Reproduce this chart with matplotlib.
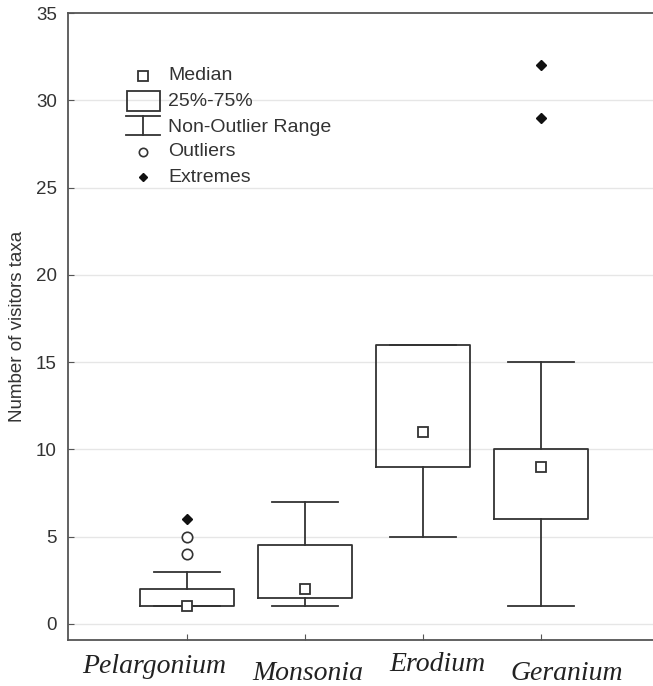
import matplotlib
matplotlib.use('Agg')
import matplotlib.pyplot as plt
from matplotlib.patches import Rectangle
from matplotlib.transforms import blended_transform_factory

plt.rcParams['font.family'] = ['Liberation Sans', 'DejaVu Sans']

# Data
genera = ['Pelargonium', 'Monsonia', 'Erodium', 'Geranium']
medians = [1, 2, 11, 9]
q1 = [1, 1.5, 9, 6]
q3 = [2, 4.5, 16, 10]
whisker_low = [1, 1, 5, 1]
whisker_high = [3, 7, 16, 15]
outliers = {'Pelargonium': [4, 5]}
extremes = {'Pelargonium': [6], 'Geranium': [29, 32]}

# label placement (x offset from box centre, baseline offset in px from bottom)
label_dx = [-0.275, 0.02, 0.12, 0.22]
label_base = [13, 6, 15, 6]

W, H = 653, 686
fig = plt.figure(figsize=(W / 100, H / 100), dpi=100)
ax = fig.add_axes([68 / W, (H - 640) / H, (W - 68) / W, (640 - 13) / H])

dark = '#333333'
positions = list(range(1, len(genera) + 1))
stats = []
for i, g in enumerate(genera):
    stats.append(dict(med=medians[i], q1=q1[i], q3=q3[i],
                      whislo=whisker_low[i], whishi=whisker_high[i], fliers=[]))

ax.bxp(stats, positions=positions, widths=0.8, capwidths=0.565, showfliers=False,
       boxprops=dict(color=dark, linewidth=1.3),
       whiskerprops=dict(color=dark, linewidth=1.3),
       capprops=dict(color=dark, linewidth=1.3),
       medianprops=dict(linewidth=0), manage_ticks=False, zorder=2)

ax.plot(positions, medians, 's', mfc='white', mec=dark, mew=1.3, ms=7, zorder=3)
for g, vals in outliers.items():
    x = positions[genera.index(g)]
    ax.plot([x] * len(vals), vals, 'o', mfc='white', mec=dark, mew=1.2, ms=7.5, zorder=3)
for g, vals in extremes.items():
    x = positions[genera.index(g)]
    ax.plot([x] * len(vals), vals, 'D', color='#111111', ms=5, zorder=3)

ax.set_xlim(1 - 119 / 118, 1 + 466 / 118)
ax.set_ylim(-0.92, 35)
ax.set_yticks(range(0, 36, 5))
ax.set_xticks(positions)
ax.set_xticklabels([])
ax.tick_params(axis='both', direction='in', length=4, color='#555555', labelsize=13.5,
               labelcolor='#333333')
ax.tick_params(axis='y', pad=8)
for y in range(0, 35, 5):
    ax.axhline(y, color='#e6e6e6', linewidth=1, zorder=0)
for side in ['left', 'top', 'bottom']:
    ax.spines[side].set_color('#555555')
    ax.spines[side].set_linewidth(1.3)
ax.spines['right'].set_visible(False)
ax.set_ylabel('Number of visitors taxa', fontsize=13.5, color='#333333', labelpad=7)

trans = blended_transform_factory(ax.transData, fig.transFigure)
for i, g in enumerate(genera):
    ax.text(positions[i] + label_dx[i], label_base[i] / H, g, transform=trans,
            ha='center', va='baseline', fontsize=20, style='italic',
            family='Liberation Serif', color='#222222', clip_on=False)

# legend drawn in a pixel-based inset
lg = fig.add_axes([110 / W, (H - 190) / H, 250 / W, 130 / H])
lg.set_xlim(110, 360)
lg.set_ylim(190, 60)
lg.axis('off')
lg.plot([143], [76], 's', mfc='white', mec=dark, mew=1.3, ms=7)
lg.add_patch(Rectangle((127, 91), 33, 20, fill=False, edgecolor=dark, linewidth=1.3))
lg.plot([126, 160], [116, 116], color=dark, linewidth=1.3)
lg.plot([126, 160], [135, 135], color=dark, linewidth=1.3)
lg.plot([143, 143], [116, 135], color=dark, linewidth=1.3)
lg.plot([143], [152], 'o', mfc='white', mec=dark, mew=1.2, ms=6)
lg.plot([143], [177], 'D', color='#111111', ms=4.5)
entries = [('Median', 76), ('25%-75%', 102), ('Non-Outlier Range', 127),
           ('Outliers', 152), ('Extremes', 177)]
for txt, y in entries:
    lg.text(168, y, txt, fontsize=14, color='#333333', va='center', ha='left')

fig.savefig('out.png', dpi=100)
